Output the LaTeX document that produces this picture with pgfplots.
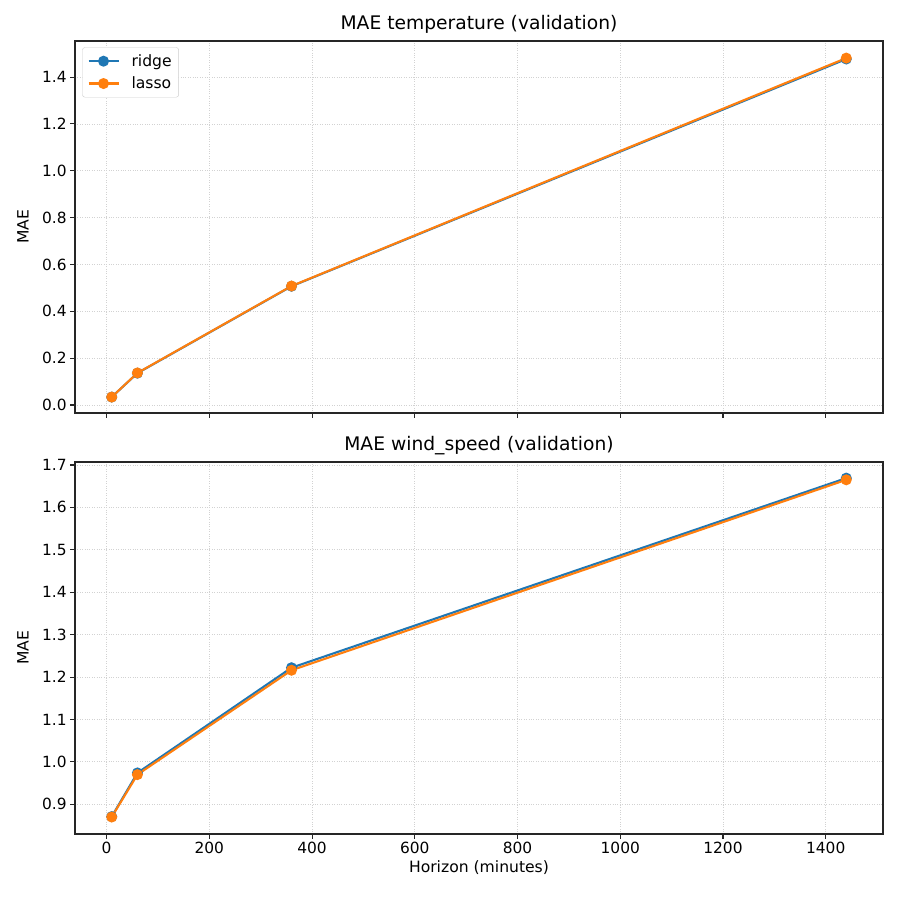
\documentclass[border=0pt]{standalone}
\usepackage{fontspec}
\setmainfont{DejaVu Sans}
\usepackage{pgfplots}
\pgfplotsset{compat=1.18}
\definecolor{cA}{HTML}{1F77B4}
\definecolor{cB}{HTML}{FF7F0E}
\begin{document}
\begin{tikzpicture}
\path[use as bounding box] (0pt,0pt) rectangle (900pt,900pt);
\pgfplotsset{
  every axis/.append style={
    scale only axis, width=808pt, height=372pt,
    xmin=-61.5, xmax=1511.5,
    xtick={0,200,...,1400},
    axis line style={line width=1.1pt, black!85},
    tick style={line width=1.1pt, black!85},
    tick align=outside, tick pos=left,
    major tick length=4.9pt,
    grid=major,
    grid style={dotted, gray!35, line width=0.8pt},
    tick label style={font=\fontsize{15.4}{18}\selectfont},
    /pgf/number format/assume math mode=true,
    /pgf/number format/1000 sep={},
    label style={font=\fontsize{15.6}{18}\selectfont},
    title style={font=\fontsize{18.7}{22}\selectfont, yshift=-2pt},
    ylabel={MAE},
    ylabel style={at={(axis description cs:-0.053,0.5)}},
    every axis plot/.append style={line width=2.1pt, mark=*, mark size=4.4pt},
    yticklabel style={/pgf/number format/fixed, /pgf/number format/fixed zerofill, /pgf/number format/precision=1},
  }
}
\begin{axis}[at={(75pt,487pt)}, anchor=south west,
  title={MAE temperature (validation)},
  ymin=-0.034, ymax=1.554,
  ytick={0,0.2,...,1.4},
  xticklabels={},
  legend style={font=\fontsize{15.6}{18}\selectfont, draw=gray!40, rounded corners=2.5pt, at={(0.009,0.983)}, anchor=north west, inner xsep=5pt, inner ysep=5pt, row sep=5pt, nodes={inner xsep=2pt}},
  legend cell align=left,
  legend image code/.code={\path[draw=none, fill=none] (0pt,0pt) -- (41pt,0pt);\draw[mark repeat=2,mark phase=2] plot coordinates {(0pt,0pt) (15pt,0pt) (30pt,0pt)};},
  ]
\addplot[color=cA, mark options={fill=cA, draw=cA}] coordinates {(10,0.034) (60,0.136) (360,0.507) (1440,1.477)};
\addlegendentry{ridge}
\addplot[color=cB, mark options={fill=cB, draw=cB}] coordinates {(10,0.034) (60,0.137) (360,0.508) (1440,1.481)};
\addlegendentry{lasso}
\end{axis}
\begin{axis}[at={(75pt,66pt)}, anchor=south west,
  title={MAE wind\_speed (validation)},
  ymin=0.83, ymax=1.707,
  ytick={0.9,1.0,...,1.7},
  xlabel={Horizon (minutes)},
  xticklabel style={/pgf/number format/precision=0},
  ]
\addplot[color=cA, mark options={fill=cA, draw=cA}] coordinates {(10,0.871) (60,0.974) (360,1.222) (1440,1.669)};
\addplot[color=cB, mark options={fill=cB, draw=cB}] coordinates {(10,0.870) (60,0.970) (360,1.216) (1440,1.665)};
\end{axis}
\end{tikzpicture}
\end{document}
